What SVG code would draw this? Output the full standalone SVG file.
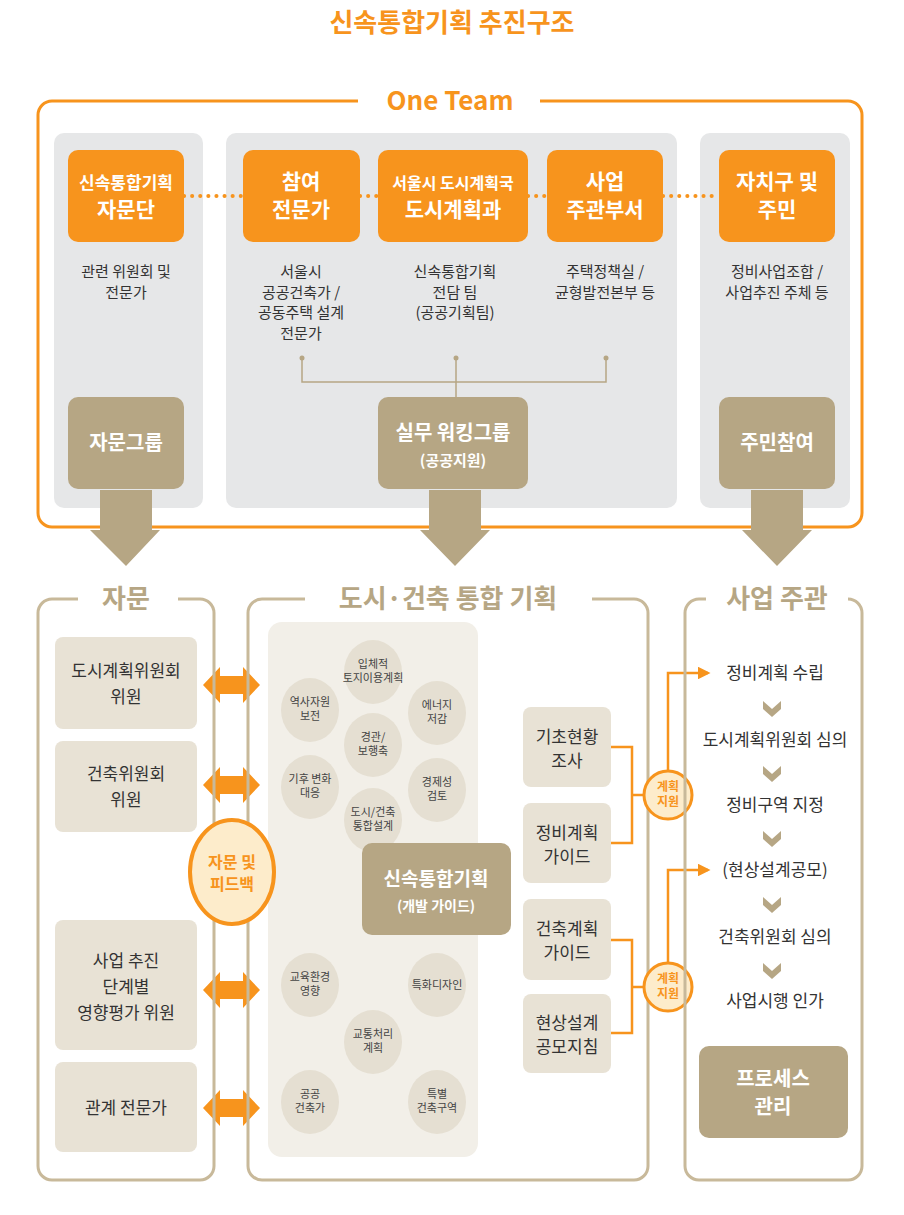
<svg xmlns="http://www.w3.org/2000/svg" width="904" height="1215" viewBox="0 0 904 1215">
<defs>
<style>
text{font-family:"Noto Sans CJK KR","Noto Sans",sans-serif;text-anchor:middle}
.o{fill:#f7941d}
.tan{fill:#b6a684}
.wt{fill:#fff;font-weight:bold}
.d{fill:#333;font-size:15px}
.e{fill:#333;font-size:17px}
.c{fill:#444;font-size:11px}
.frame{fill:none;stroke:#f7941d;stroke-width:3}
.bframe{fill:none;stroke:#c8b99a;stroke-width:3}
.ttl{fill:#f7941d;font-weight:bold;font-size:26px}
.btl{fill:#b6a684;font-weight:bold;font-size:26px}
.bx{fill:#e8e2d5}
.cir{fill:#e5dfd2}
.dot{stroke:#f7941d;stroke-width:4;stroke-dasharray:0.1 8;stroke-linecap:round;fill:none}
.ln{stroke:#f7941d;stroke-width:2.5;fill:none}
</style>
<marker id="ah" viewBox="0 0 10 10" refX="8" refY="5" markerWidth="5" markerHeight="5" orient="auto"><path d="M0,0L10,5L0,10z" fill="#f7941d"/></marker>
<g id="dbl"><path d="M203,0L220,-18V-9H243V-18L260,0L243,18V9H220V18Z" fill="#f7941d"/></g>
<g id="dn"><path d="M-9,-7L0,1L9,-7L9,1L0,9L-9,1Z" fill="#b6a684"/></g>
</defs>
<rect width="904" height="1215" fill="#fff"/>
<text x="452" y="32" class="ttl">신속통합기획 추진구조</text>

<g id="top">
<rect x="38" y="101" width="824" height="426" rx="14" class="frame"/>
<rect x="358" y="90" width="182" height="22" fill="#fff"/>
<text x="450" y="110" class="ttl">One Team</text>
<rect x="54" y="133" width="149" height="375" rx="10" fill="#e6e7e8"/>
<rect x="226" y="133" width="451" height="375" rx="10" fill="#e6e7e8"/>
<rect x="700" y="133" width="150" height="375" rx="10" fill="#e6e7e8"/>
</g>
<g id="connectors">
<path d="M184,196H243M360,196H378M528,196H547M663,196H719" class="dot"/>
<path d="M302,358V382H606V358M456,358V397" stroke="#b6a684" stroke-width="1.5" fill="none"/>
<circle cx="302" cy="358" r="2.5" fill="#b6a684"/><circle cx="456" cy="358" r="2.5" fill="#b6a684"/><circle cx="606" cy="358" r="2.5" fill="#b6a684"/>
<path d="M100,490H152V530H160L126,566L90,530H100Z" class="tan"/>
<path d="M429,490H481V530H490L455,566L420,530H429Z" class="tan"/>
<path d="M751,490H803V530H812L777,566L742,530H751Z" class="tan"/>
<use href="#dbl" y="685"/><use href="#dbl" y="785"/><use href="#dbl" y="990"/><use href="#dbl" y="1108"/>
<path d="M611,747H632V843H611M632,795H643" class="ln"/>
<path d="M611,940H632V1033H611M632,987H643" class="ln"/>
<path d="M668,770V673H708" class="ln" marker-end="url(#ah)"/>
<path d="M668,962V870H708" class="ln" marker-end="url(#ah)"/>
</g>
<g id="n1"><rect x="68" y="150" width="116" height="92" rx="10" class="o"/><text x="126" y="189" class="wt" font-size="17">신속통합기획</text><text x="126" y="217" class="wt" font-size="21">자문단</text><text x="126" y="277" class="d">관련 위원회 및</text><text x="126" y="298" class="d">전문가</text></g>
<g id="n2"><rect x="243" y="150" width="117" height="92" rx="10" class="o"/><text x="301" y="189" class="wt" font-size="21">참여</text><text x="301" y="217" class="wt" font-size="21">전문가</text><text x="301" y="277" class="d">서울시</text><text x="301" y="298" class="d">공공건축가 /</text><text x="301" y="318" class="d">공동주택 설계</text><text x="301" y="339" class="d">전문가</text></g>
<g id="n3"><rect x="378" y="150" width="150" height="92" rx="10" class="o"/><text x="453" y="189" class="wt" font-size="16">서울시 도시계획국</text><text x="453" y="217" class="wt" font-size="21">도시계획과</text><text x="455" y="277" class="d">신속통합기획</text><text x="455" y="298" class="d">전담 팀</text><text x="455" y="318" class="d">(공공기획팀)</text></g>
<g id="n4"><rect x="547" y="150" width="116" height="92" rx="10" class="o"/><text x="605" y="189" class="wt" font-size="21">사업</text><text x="605" y="217" class="wt" font-size="21">주관부서</text><text x="605" y="277" class="d">주택정책실 /</text><text x="605" y="298" class="d">균형발전본부 등</text></g>
<g id="n5"><rect x="719" y="150" width="116" height="92" rx="10" class="o"/><text x="777" y="189" class="wt" font-size="21">자치구 및</text><text x="777" y="217" class="wt" font-size="21">주민</text><text x="777" y="277" class="d">정비사업조합 /</text><text x="777" y="298" class="d">사업추진 주체 등</text></g>
<g id="g1"><rect x="68" y="397" width="116" height="92" rx="10" class="tan"/><text x="126" y="450" class="wt" font-size="20">자문그룹</text></g>
<g id="g2"><rect x="378" y="397" width="150" height="92" rx="10" class="tan"/><text x="453" y="440" class="wt" font-size="20">실무 워킹그룹</text><text x="453" y="466" class="wt" font-size="15">(공공지원)</text></g>
<g id="g3"><rect x="719" y="397" width="116" height="92" rx="10" class="tan"/><text x="777" y="450" class="wt" font-size="20">주민참여</text></g>

<g id="left">
<rect x="38" y="599" width="176" height="581" rx="14" class="bframe"/>
<rect x="78" y="588" width="100" height="22" fill="#fff"/>
<text x="126" y="608" class="btl">자문</text>
<rect x="55" y="637" width="142" height="92" rx="8" class="bx"/><text x="126" y="677" class="e">도시계획위원회</text><text x="126" y="703" class="e">위원</text>
<rect x="55" y="741" width="142" height="91" rx="8" class="bx"/><text x="126" y="780" class="e">건축위원회</text><text x="126" y="806" class="e">위원</text>
<rect x="55" y="920" width="142" height="130" rx="8" class="bx"/><text x="126" y="967" class="e">사업 추진</text><text x="126" y="993" class="e">단계별</text><text x="126" y="1019" class="e">영향평가 위원</text>
<rect x="55" y="1062" width="142" height="90" rx="8" class="bx"/><text x="126" y="1114" class="e">관계 전문가</text>
</g>

<g id="mid">
<rect x="248" y="599" width="400" height="581" rx="14" class="bframe"/>
<rect x="305" y="588" width="287" height="22" fill="#fff"/>
<text x="448" y="608" class="btl">도시·건축 통합 기획</text>
<rect x="268" y="622" width="210" height="535" rx="14" fill="#f2efe8"/>
<ellipse cx="373" cy="672" rx="29" ry="32" class="cir"/><text x="373" y="668" class="c">입체적</text><text x="373" y="682" class="c">토지이용계획</text>
<ellipse cx="310" cy="710" rx="29" ry="32" class="cir"/><text x="310" y="706" class="c">역사자원</text><text x="310" y="720" class="c">보전</text>
<ellipse cx="437" cy="713" rx="29" ry="32" class="cir"/><text x="437" y="709" class="c">에너지</text><text x="437" y="723" class="c">저감</text>
<ellipse cx="373" cy="745" rx="29" ry="32" class="cir"/><text x="373" y="741" class="c">경관/</text><text x="373" y="755" class="c">보행축</text>
<ellipse cx="310" cy="787" rx="29" ry="32" class="cir"/><text x="310" y="783" class="c">기후 변화</text><text x="310" y="797" class="c">대응</text>
<ellipse cx="437" cy="790" rx="29" ry="32" class="cir"/><text x="437" y="786" class="c">경제성</text><text x="437" y="800" class="c">검토</text>
<ellipse cx="373" cy="820" rx="29" ry="32" class="cir"/><text x="373" y="816" class="c">도시/건축</text><text x="373" y="830" class="c">통합설계</text>
<ellipse cx="310" cy="985" rx="29" ry="32" class="cir"/><text x="310" y="981" class="c">교육환경</text><text x="310" y="995" class="c">영향</text>
<ellipse cx="437" cy="985" rx="29" ry="32" class="cir"/><text x="437" y="989" class="c">특화디자인</text>
<ellipse cx="373" cy="1042" rx="29" ry="32" class="cir"/><text x="373" y="1038" class="c">교통처리</text><text x="373" y="1052" class="c">계획</text>
<ellipse cx="310" cy="1102" rx="29" ry="32" class="cir"/><text x="310" y="1098" class="c">공공</text><text x="310" y="1112" class="c">건축가</text>
<ellipse cx="437" cy="1102" rx="29" ry="32" class="cir"/><text x="437" y="1098" class="c">특별</text><text x="437" y="1112" class="c">건축구역</text>
<rect x="362" y="843" width="149" height="92" rx="10" class="tan"/><text x="436" y="886" class="wt" font-size="19">신속통합기획</text><text x="436" y="911" class="wt" font-size="14">(개발 가이드)</text>
<rect x="523" y="707" width="88" height="80" rx="8" class="bx"/><text x="567" y="743" class="e">기초현황</text><text x="567" y="767" class="e">조사</text>
<rect x="523" y="803" width="88" height="80" rx="8" class="bx"/><text x="567" y="839" class="e">정비계획</text><text x="567" y="863" class="e">가이드</text>
<rect x="523" y="899" width="88" height="81" rx="8" class="bx"/><text x="567" y="935" class="e">건축계획</text><text x="567" y="959" class="e">가이드</text>
<rect x="523" y="994" width="88" height="79" rx="8" class="bx"/><text x="567" y="1029" class="e">현상설계</text><text x="567" y="1053" class="e">공모지침</text>
<circle cx="668" cy="795" r="24" fill="#fdeccb" stroke="#f7941d" stroke-width="3"/><text x="668" y="791" class="o" font-weight="bold" font-size="12">계획</text><text x="668" y="806" class="o" font-weight="bold" font-size="12">지원</text>
<circle cx="668" cy="987" r="24" fill="#fdeccb" stroke="#f7941d" stroke-width="3"/><text x="668" y="983" class="o" font-weight="bold" font-size="12">계획</text><text x="668" y="998" class="o" font-weight="bold" font-size="12">지원</text>
</g>
<g id="fb"><ellipse cx="232" cy="872" rx="42" ry="52" fill="#fdeccb" stroke="#f7941d" stroke-width="4"/><text x="232" y="868" class="o" font-weight="bold" font-size="16">자문 및</text><text x="232" y="890" class="o" font-weight="bold" font-size="16">피드백</text></g>

<g id="right">
<rect x="685" y="599" width="177" height="581" rx="14" class="bframe"/>
<rect x="706" y="588" width="142" height="22" fill="#fff"/>
<text x="777" y="608" class="btl">사업 주관</text>
<text x="775" y="679" class="e">정비계획 수립</text><use href="#dn" x="772" y="708"/>
<text x="775" y="746" class="e">도시계획위원회 심의</text><use href="#dn" x="772" y="773"/>
<text x="775" y="811" class="e">정비구역 지정</text><use href="#dn" x="772" y="838"/>
<text x="775" y="876" class="e">(현상설계공모)</text><use href="#dn" x="772" y="904"/>
<text x="775" y="943" class="e">건축위원회 심의</text><use href="#dn" x="772" y="970"/>
<text x="775" y="1007" class="e">사업시행 인가</text>
<rect x="699" y="1046" width="149" height="92" rx="10" class="tan"/><text x="773" y="1086" class="wt" font-size="20">프로세스</text><text x="773" y="1114" class="wt" font-size="20">관리</text>
</g>
</svg>
